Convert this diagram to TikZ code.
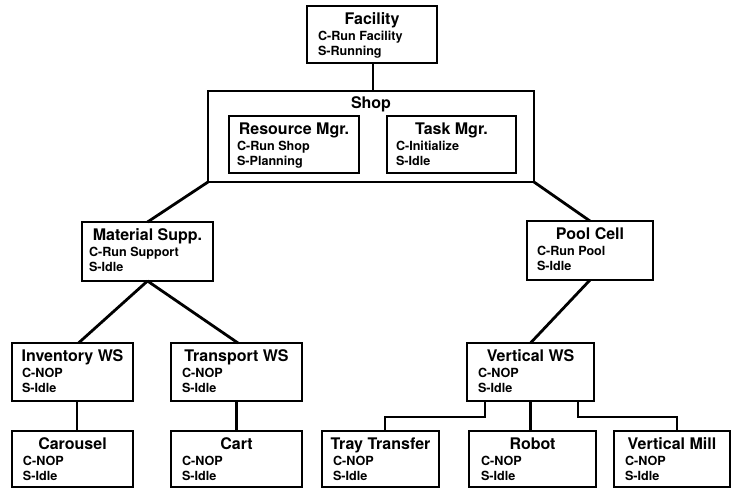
\documentclass[tikz,border=0pt]{standalone}
\usepackage{fontspec}
\setmainfont{TeX Gyre Heros}
\begin{document}
\begin{tikzpicture}[x=1pt,y=-1pt,
  unitbox/.style={draw=black,line width=1.7pt,rectangle,inner sep=0pt,outer sep=0pt,anchor=north west},
  shopbox/.style={unitbox,line width=2.3pt},
  ttl/.style={inner sep=0pt,outer sep=0pt,anchor=base,font=\bfseries\fontsize{16}{18}\selectfont},
  sub/.style={inner sep=0pt,outer sep=0pt,anchor=base west,font=\bfseries\fontsize{12.6}{14}\selectfont},
  link/.style={draw=black,line width=2.8pt}]

% page frame
\fill[white] (0,0) rectangle (731,488);
\useasboundingbox (0,0) rectangle (731,488);

% #1 name, #2 #3 top-left corner, #4 width, #5 height, #6 indent of state lines,
% #7 title, #8 command line, #9 state line
\newcommand\unitnode[9]{%
  \node[unitbox,minimum width=#4,minimum height=#5] (#1) at (#2,#3) {};
  \node[ttl] (#1-t) at ([yshift=-18.5pt]#1.north) {#7};
  \node[sub] (#1-c) at ([xshift=#6,yshift=-34pt]#1.north west) {#8};
  \node[sub] (#1-s) at ([xshift=#6,yshift=-49pt]#1.north west) {#9};
}

% top level
\unitnode{fac}{307}{6}{130pt}{57pt}{11pt}{Facility}{C-Run Facility}{S-Running}

% shop with its two managers
\node[shopbox,minimum width=326pt,minimum height=91pt] (shop) at (208,91) {};
\node[ttl] (shop-t) at ([yshift=-17pt]shop.north) {Shop};
\unitnode{res}{229}{116}{130pt}{57pt}{8pt}{Resource Mgr.}{C-Run Shop}{S-Planning}
\unitnode{task}{387}{116}{129pt}{57pt}{9pt}{Task Mgr.}{C-Initialize}{S-Idle}

% cells
\unitnode{mat}{82}{222}{131pt}{59pt}{7pt}{Material Supp.}{C-Run Support}{S-Idle}
\unitnode{pool}{527}{221}{126pt}{59pt}{10pt}{Pool Cell}{C-Run Pool}{S-Idle}

% workstations
\unitnode{inv}{12}{343}{121pt}{58pt}{10pt}{Inventory WS}{C-NOP}{S-Idle}
\unitnode{trn}{171}{343}{131pt}{58pt}{11pt}{Transport WS}{C-NOP}{S-Idle}
\unitnode{vws}{467}{343}{127pt}{58pt}{11pt}{Vertical WS}{C-NOP}{S-Idle}

% equipment
\unitnode{car}{12}{431}{121pt}{56pt}{11pt}{Carousel}{C-NOP}{S-Idle}
\unitnode{cart}{171}{431}{131pt}{56pt}{11pt}{Cart}{C-NOP}{S-Idle}
\unitnode{tray}{322}{431}{117pt}{56pt}{11pt}{Tray Transfer}{C-NOP}{S-Idle}
\unitnode{rob}{469}{431}{127pt}{56pt}{12pt}{Robot}{C-NOP}{S-Idle}
\unitnode{mill}{614}{431}{116pt}{56pt}{11pt}{Vertical Mill}{C-NOP}{S-Idle}

% hierarchy links
\draw[link] ([xshift=1pt]fac.south) -- ([xshift=1pt]fac.south |- shop.north);
\draw[link] (shop.south west) -- (mat.north);
\draw[link] (shop.south east) -- (pool.north);
\draw[link] (mat.south) -- ([xshift=6pt]inv.north);
\draw[link] (mat.south) -- ([xshift=1.5pt]trn.north);
\draw[link] (pool.south) -- (vws.north);
\draw[link] ([xshift=4.5pt]inv.south) -- ([xshift=4.5pt]car.north);
\draw[link] (trn.south) -- (cart.north);
\draw[link] ([xshift=-45.5pt]vws.south) -- ++(0,16) -| ([xshift=4.5pt]tray.north);
\draw[link] (vws.south) -- (vws.south |- rob.north);
\draw[link] ([xshift=47.5pt]vws.south) -- ++(0,16) -| ([xshift=5pt]mill.north);
\end{tikzpicture}
\end{document}
